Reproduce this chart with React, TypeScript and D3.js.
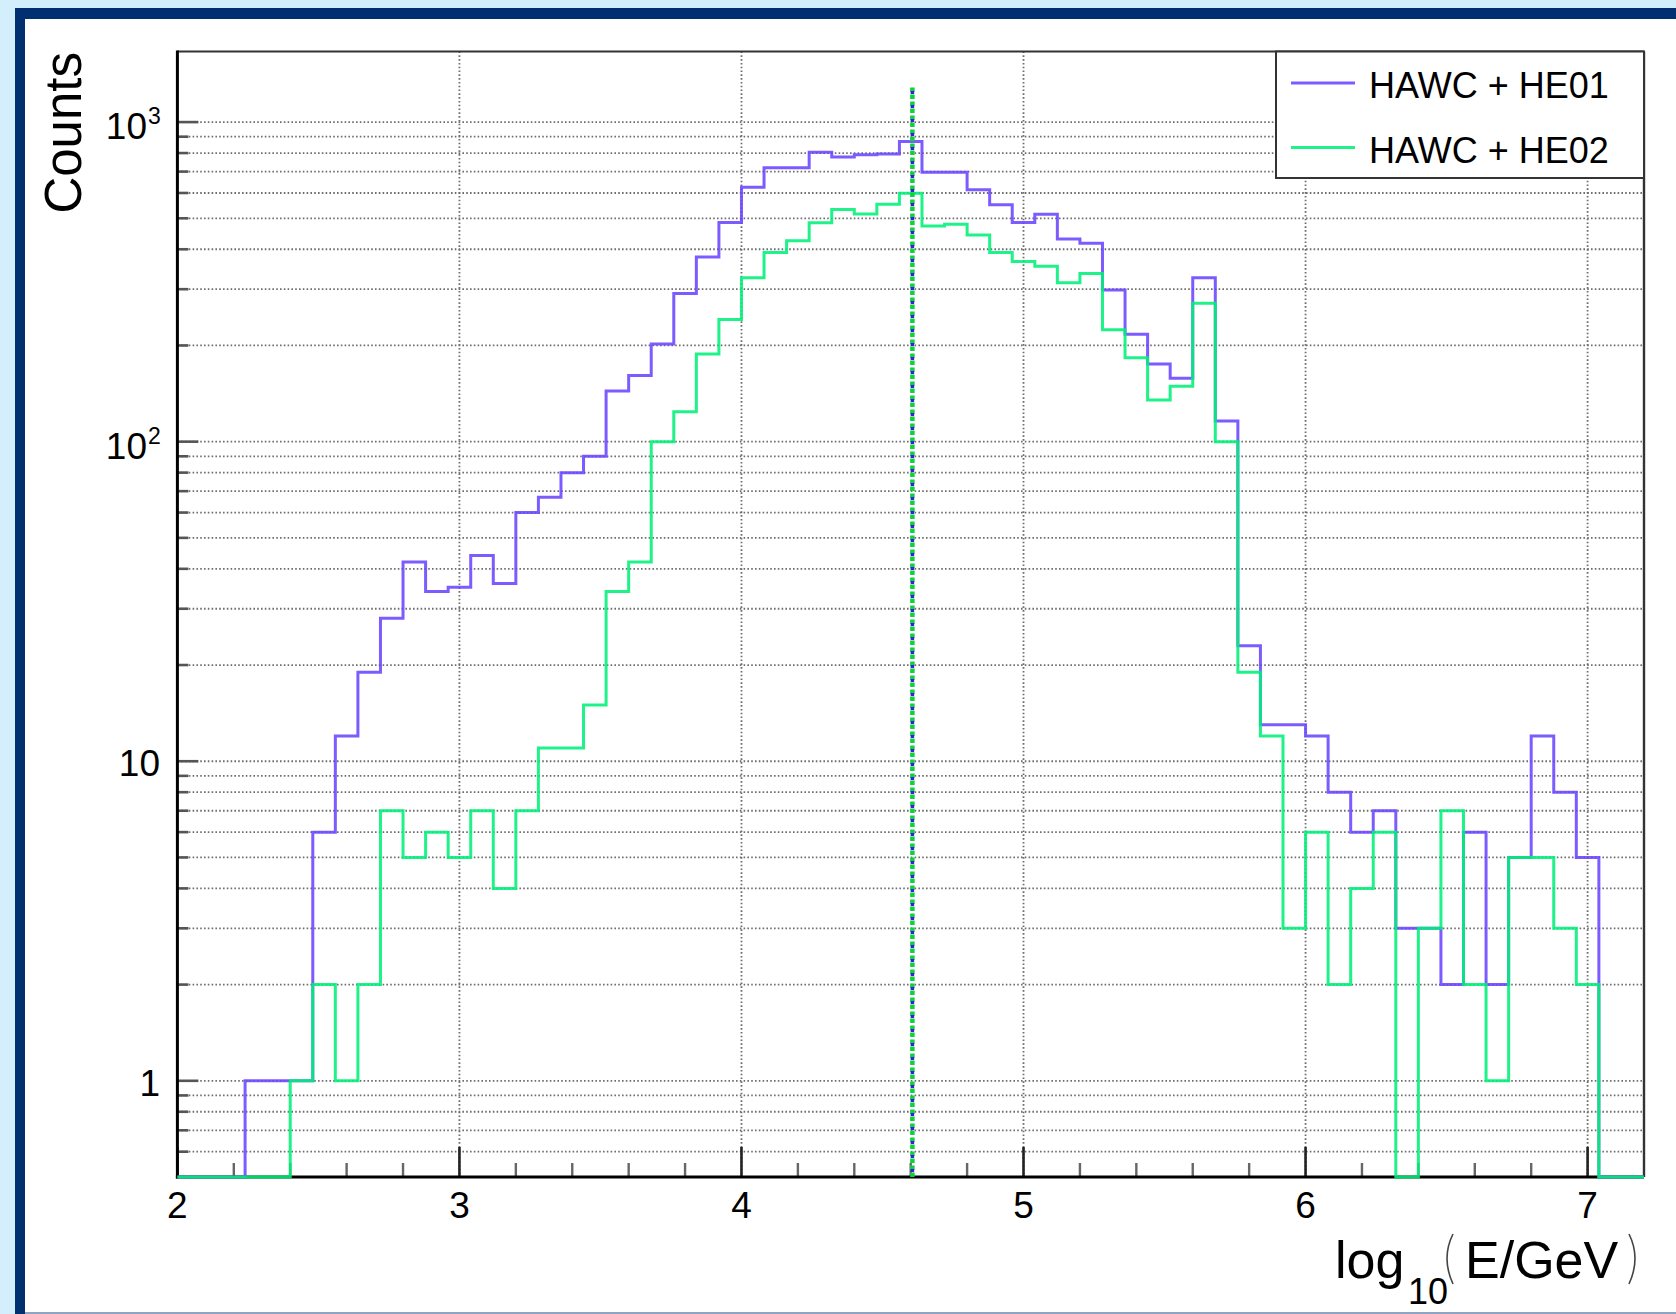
import React from "react";
import * as d3 from "d3";

// Histogram binning of log10(E/GeV)
const binLow = 2.0;
const binWidth = 0.08;

// Counts per bin, starting at log10(E/GeV) = 2.00
const countsHE01 = [
  0, 0, 0, 1, 1, 1, 6, 12, 19, 28,
  42, 34, 35, 44, 36, 60, 67, 80, 90, 144,
  161, 202, 291, 378, 485, 625, 720, 720, 805, 778,
  790, 795, 870, 697, 697, 614, 551, 485, 515, 431,
  418, 298, 217, 175, 158, 326, 116, 23, 13, 13,
  12, 8, 6, 7, 3, 3, 2, 6, 2, 5,
  12, 8, 5, 0, 0,
];
const countsHE02 = [
  0, 0, 0, 0, 0, 1, 2, 1, 2, 7,
  5, 6, 5, 7, 4, 7, 11, 11, 15, 34,
  42, 100, 124, 188, 241, 326, 391, 425, 484, 533,
  516, 553, 599, 473, 479, 443, 391, 366, 354, 314,
  336, 224, 183, 135, 149, 271, 100, 19, 12, 3,
  6, 2, 4, 6, 0, 3, 7, 2, 1, 5,
  5, 3, 2, 0, 0,
];

const seriesNames = ["HAWC + HE01", "HAWC + HE02"];
const seriesColors = ["#6a46ff", "#00f078"];
// Mean of each distribution, drawn as a dashed marker line
const meanEnergies = [4.606, 4.606];
const meanLineTop = 1300;

const xMajorTicks = [2, 3, 4, 5, 6, 7];
const xMinorTicks = [
  2.2, 2.4, 2.6, 2.8, 3.2, 3.4, 3.6, 3.8, 4.2, 4.4, 4.6, 4.8,
  5.2, 5.4, 5.6, 5.8, 6.2, 6.4, 6.6, 6.8,
];
const yMajorTicks = [1, 10, 100, 1000];
const yMajorLabels = [
  { base: "1", exp: "" },
  { base: "10", exp: "" },
  { base: "10", exp: "2" },
  { base: "10", exp: "3" },
];

const W = 1676;
const H = 1314;
const plot = { left: 177.4, right: 1644, top: 51.5, bottom: 1177 };

const x = d3.scaleLinear().domain([2, 7.2]).range([plot.left, plot.right]);
const y = d3.scaleLog().domain([0.5, 1663]).range([plot.bottom, plot.top]);

const FONT = "'Liberation Sans', Arial, Helvetica, sans-serif";

function histPath(counts: number[]): string {
  const p = d3.path();
  const yOf = (v: number) => (v > 0.5 ? y(v) : plot.bottom);
  p.moveTo(x(binLow), plot.bottom);
  counts.forEach((v, i) => {
    const x0 = x(binLow + i * binWidth);
    const x1 = x(binLow + (i + 1) * binWidth);
    p.lineTo(x0, yOf(v));
    p.lineTo(x1, yOf(v));
  });
  p.lineTo(x(binLow + counts.length * binWidth), plot.bottom);
  return p.toString();
}

// All minor/major grid values of the log axis inside the frame
function logGridValues(): number[] {
  const out: number[] = [];
  for (let e = -1; e <= 3; e++) {
    for (let k = 1; k <= 9; k++) {
      const v = k * Math.pow(10, e);
      if (v > 0.5 && v < 1663) out.push(v);
    }
  }
  return out;
}

export default function App() {
  const gridY = logGridValues();
  const minorY = gridY.filter((v) => !yMajorTicks.includes(v));
  const paths = [histPath(countsHE01), histPath(countsHE02)];

  return (
    <svg
      width={W}
      height={H}
      style={{ position: "absolute", left: 0, top: 0, display: "block" }}
      fontFamily={FONT}
    >
      {/* canvas frame */}
      <rect x={0} y={0} width={W} height={H} fill="#d3effb" />
      <rect x={15} y={8} width={W - 15} height={H - 8} fill="#00306f" />
      <rect x={25} y={19} width={W - 25} height={H - 19 - 2} fill="#ffffff" />
      <rect x={25} y={H - 2} width={W - 25} height={2} fill="#8ea4c2" />

      {/* grid */}
      <g stroke="#6e6e6e" strokeWidth={1.8} strokeDasharray="1.6 2.2">
        {gridY.map((v) => (
          <line key={"gy" + v} x1={plot.left} x2={plot.right} y1={y(v)} y2={y(v)} />
        ))}
        {xMajorTicks.slice(1).map((v) => (
          <line key={"gx" + v} x1={x(v)} x2={x(v)} y1={plot.top} y2={plot.bottom} />
        ))}
      </g>

      {/* y ticks */}
      <g stroke="#555" strokeWidth={2.6}>
        {yMajorTicks.map((v) => (
          <line key={"ty" + v} x1={plot.left} x2={plot.left + 21} y1={y(v)} y2={y(v)} />
        ))}
        {minorY.map((v) => (
          <line key={"tmy" + v} x1={plot.left} x2={plot.left + 11} y1={y(v)} y2={y(v)} />
        ))}
      </g>
      {/* x ticks */}
      <g>
        {xMajorTicks.map((v) => (
          <line key={"tx" + v} x1={x(v)} x2={x(v)} y1={plot.bottom} y2={plot.bottom - 30} stroke="#222" strokeWidth={2.6} />
        ))}
        {xMinorTicks.map((v) => (
          <line key={"tmx" + v} x1={x(v)} x2={x(v)} y1={plot.bottom} y2={plot.bottom - 14} stroke="#666" strokeWidth={2.4} />
        ))}
      </g>

      {/* frame */}
      <line x1={plot.left} x2={plot.right} y1={plot.top} y2={plot.top} stroke="#333" strokeWidth={2} />
      <line x1={plot.right} x2={plot.right} y1={plot.top} y2={plot.bottom} stroke="#333" strokeWidth={2.4} />
      <line x1={plot.left} x2={plot.left} y1={plot.top - 1} y2={plot.bottom + 1.5} stroke="#000" strokeWidth={3} />
      <line x1={plot.left - 1.5} x2={plot.right} y1={plot.bottom} y2={plot.bottom} stroke="#000" strokeWidth={3} />

      {/* histograms */}
      {paths.map((d, i) => (
        <path
          key={"h" + i}
          d={d}
          fill="none"
          stroke={seriesColors[i]}
          strokeOpacity={0.88}
          strokeWidth={3}
          strokeLinejoin="miter"
        />
      ))}

      {/* mean markers */}
      <line
        x1={x(meanEnergies[1])}
        x2={x(meanEnergies[1])}
        y1={plot.bottom}
        y2={y(meanLineTop)}
        stroke="#10d040"
        strokeWidth={4.5}
        strokeDasharray="4.5 2.5"
      />
      <line
        x1={x(meanEnergies[0])}
        x2={x(meanEnergies[0])}
        y1={plot.bottom}
        y2={y(meanLineTop)}
        stroke="#3a1ce0"
        strokeWidth={3.5}
        strokeDasharray="3 11"
        strokeDashoffset={-5}
      />

      {/* x tick labels */}
      <g fontSize={37} textAnchor="middle" fill="#000">
        {xMajorTicks.map((v) => (
          <text key={"lx" + v} x={x(v)} y={1218}>
            {String(v)}
          </text>
        ))}
      </g>
      {/* y tick labels */}
      <g fill="#000">
        {yMajorTicks.map((v, i) => {
          const lab = yMajorLabels[i];
          const yy = y(v);
          if (!lab.exp) {
            return (
              <text key={"ly" + v} x={160} y={yy + 15} fontSize={37} textAnchor="end">
                {lab.base}
              </text>
            );
          }
          return (
            <g key={"ly" + v}>
              <text x={147} y={yy + 17} fontSize={37} textAnchor="end">
                {lab.base}
              </text>
              <text x={148} y={yy + 2} fontSize={23} textAnchor="start">
                {lab.exp}
              </text>
            </g>
          );
        })}
      </g>

      {/* axis titles */}
      <text
        transform={`translate(81, 52) rotate(-90)`}
        fontSize={51}
        textAnchor="end"
        fill="#000"
      >
        Counts
      </text>
      <g fill="#000">
        <text x={1335} y={1278} fontSize={52}>log</text>
        <text x={1408} y={1304} fontSize={36}>10</text>
        <text x={1465} y={1278} fontSize={52}>E/GeV</text>
      </g>
      <g fill="none" stroke="#444" strokeWidth={1.6}>
        <path d="M 1453 1234 Q 1441 1258 1453 1284" />
        <path d="M 1629 1234 Q 1641 1258 1629 1284" />
      </g>

      {/* legend */}
      <rect x={1276} y={plot.top} width={plot.right - 1276} height={126.5} fill="#fff" stroke="#333" strokeWidth={2} />
      {seriesNames.map((name, i) => (
        <g key={"lg" + i}>
          <line
            x1={1291}
            x2={1355}
            y1={83 + i * 64.5}
            y2={83 + i * 64.5}
            stroke={seriesColors[i]}
            strokeOpacity={0.88}
            strokeWidth={3}
          />
          <text x={1369} y={98 + i * 64.5} fontSize={36} fill="#000">
            {name}
          </text>
        </g>
      ))}
    </svg>
  );
}
